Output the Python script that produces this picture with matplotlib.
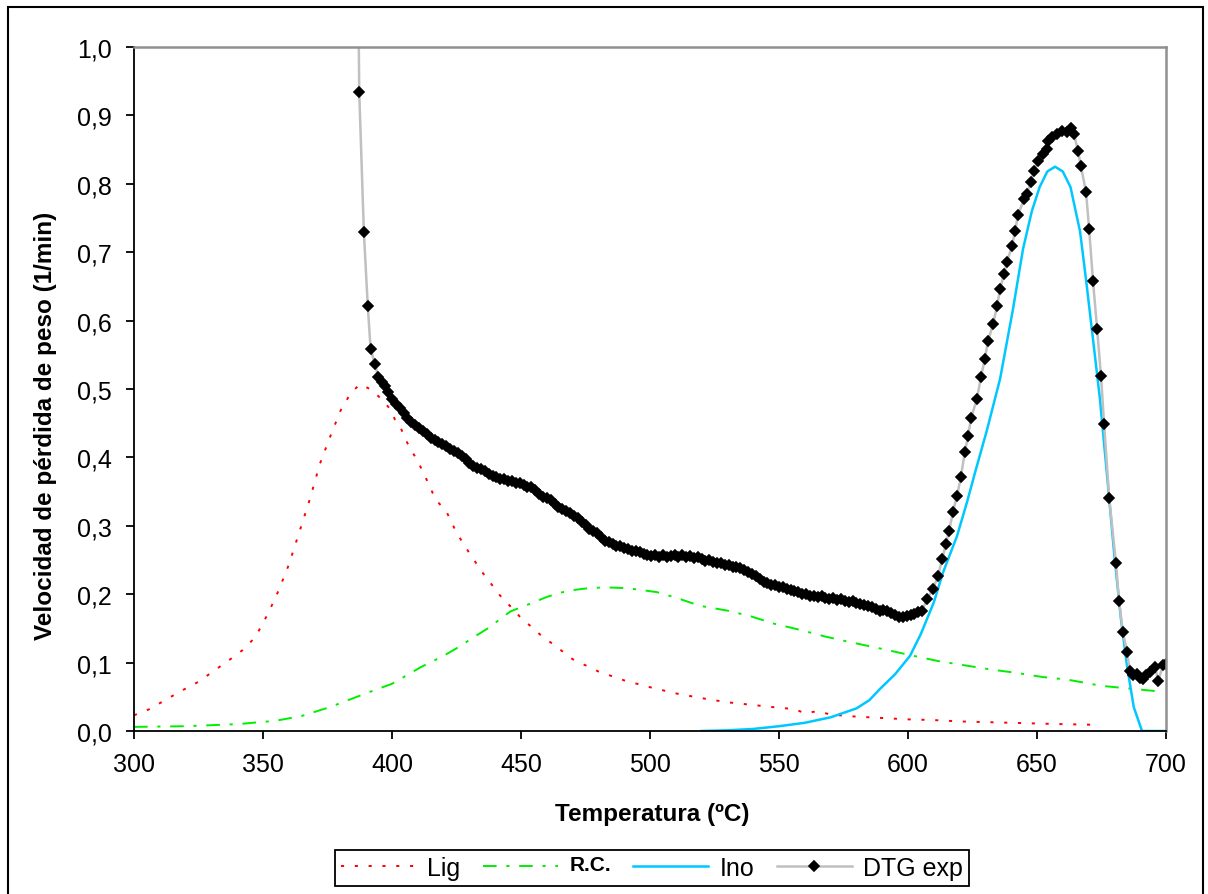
import matplotlib
matplotlib.use('Agg')
import matplotlib.pyplot as plt
from matplotlib.patches import Rectangle
from matplotlib.ticker import FuncFormatter, MultipleLocator

plt.rcParams['font.family'] = ['Liberation Sans', 'DejaVu Sans']

# Lig (red, dotted)
lig_t = [300, 306, 312, 318, 325, 331, 337, 342, 347, 352, 356, 360, 364, 368, 372, 376,
         380, 384, 387.6, 392, 396, 399, 401.2, 403.4, 405.4, 408, 409.8, 412.1, 414.1, 416,
         418.2, 421.2, 425, 430, 435, 441.9, 445.7, 449.6, 453.5, 458, 462.4, 470, 480, 490,
         500, 510, 520, 530, 540, 550, 556, 560, 565, 570, 580, 590, 600, 610, 620, 630,
         640, 650, 660, 673.6]
lig_y = [0.023, 0.032, 0.045, 0.058, 0.072, 0.088, 0.104, 0.118, 0.137, 0.172, 0.205, 0.243,
         0.290, 0.337, 0.390, 0.430, 0.468, 0.494, 0.507, 0.499, 0.485, 0.472, 0.455, 0.443,
         0.425, 0.407, 0.396, 0.378, 0.362, 0.346, 0.333, 0.320, 0.290, 0.260, 0.232, 0.198,
         0.183, 0.167, 0.154, 0.139, 0.127, 0.105, 0.087, 0.074, 0.064, 0.055, 0.048, 0.042,
         0.038, 0.034, 0.032, 0.026, 0.029, 0.024, 0.021, 0.019, 0.017, 0.016, 0.014, 0.013,
         0.012, 0.011, 0.010, 0.009]

# R.C. (green, dash-dot)
rc_t = [300, 320, 340, 355, 365, 376, 385, 392, 400, 411, 420, 426, 432, 438, 442, 446,
        453.5, 460, 465, 470, 476.7, 483, 489.5, 495, 502.7, 510, 519.4, 530, 538.8, 548,
        558, 568, 577.5, 590, 602, 612, 622, 632, 642, 652, 662, 675, 686, 697]
rc_y = [0.006, 0.007, 0.010, 0.015, 0.022, 0.035, 0.048, 0.058, 0.069, 0.093, 0.110, 0.123,
        0.138, 0.152, 0.164, 0.175, 0.186, 0.196, 0.202, 0.206, 0.209, 0.210, 0.209, 0.207,
        0.203, 0.195, 0.183, 0.176, 0.168, 0.157, 0.148, 0.138, 0.130, 0.120, 0.110, 0.102,
        0.096, 0.090, 0.085, 0.079, 0.075, 0.066, 0.062, 0.058]

# Ino (blue, solid)
ino_t = [520, 530, 540, 550, 560, 570, 580, 585, 589, 595, 600.8, 605, 610, 613.6, 619,
         622.9, 626, 630.6, 635.7, 640.7, 644.6, 648, 651, 654, 657, 660, 663, 666.7, 669,
         671.7, 674.4, 677, 680, 682.5, 684.9, 687.5, 690.7, 700]
ino_y = [0.0, 0.001, 0.003, 0.007, 0.012, 0.020, 0.033, 0.045, 0.061, 0.083, 0.110, 0.142,
         0.188, 0.232, 0.285, 0.335, 0.378, 0.440, 0.515, 0.617, 0.705, 0.760, 0.795, 0.818,
         0.825, 0.818, 0.795, 0.730, 0.660, 0.573, 0.485, 0.380, 0.256, 0.165, 0.095, 0.035,
         0.0, 0.0]

# DTG exp (grey line, black diamonds)
dtg_t = [386.9, 387.3, 389.1, 390.6, 391.7, 393.4, 394.7, 396.0, 397.3, 398.5, 400.0, 401.5,
         403.0, 404.5, 406.0, 407.5, 409.0, 410.5, 412.0, 413.5, 415.0, 416.5, 418.0, 419.5,
         421.0, 422.5, 424.0, 425.5, 427.0, 428.5, 430.0, 431.5, 433.0, 434.5, 436.0, 437.5,
         439.0, 440.5, 442.0, 443.5, 445.0, 446.5, 448.0, 449.5, 451.0, 452.5, 454.0, 455.5,
         457.0, 458.5, 460.0, 461.5, 463.0, 464.5, 466.0, 467.5, 469.0, 470.5, 472.0, 473.5,
         475.0, 476.5, 478.0, 479.5, 481.0, 482.5, 484.0, 485.5, 487.0, 488.5, 490.0, 491.5,
         493.0, 494.5, 496.0, 497.5, 499.0, 500.5, 502.0, 503.5, 505.0, 506.5, 508.0, 509.5,
         511.0, 512.5, 514.0, 515.5, 517.0, 518.5, 520.0, 521.5, 523.0, 524.5, 526.0, 527.5,
         529.0, 530.5, 532.0, 533.5, 535.0, 536.5, 538.0, 539.5, 541.0, 542.5, 544.0, 545.5,
         547.0, 548.5, 550.0, 551.5, 553.0, 554.5, 556.0, 557.5, 559.0, 560.5, 562.0, 563.5,
         565.0, 566.5, 568.0, 569.5, 571.0, 572.5, 574.0, 575.5, 577.0, 578.5, 580.0, 581.5,
         583.0, 584.5, 586.0, 587.5, 589.0, 590.5, 592.0, 593.5, 595.0, 596.5, 598.0, 599.5,
         601.0, 602.5, 604.0, 605.5, 607.4, 609.7, 611.7, 613.2, 614.7, 615.9, 617.4, 619.0,
         620.5, 622.0, 623.3, 624.4, 626.7, 628.3, 629.8, 631.0, 633.0, 634.5, 635.7, 637.2,
         638.4, 640.3, 641.5, 642.6, 645.0, 646.0, 647.7, 648.8, 650.4, 652.3, 653.9, 654.3,
         655.8, 657.8, 659.7, 661.6, 663.2, 664.3, 665.9, 667.0, 669.0, 670.2, 671.7, 673.3,
         674.8, 676.0, 678.0, 680.6, 681.8, 683.3, 684.9, 686.0, 687.4, 688.8, 690.0, 691.0,
         692.4, 693.8, 695.7, 697.0, 698.8, 700.0]
dtg_y = [1.100, 0.934, 0.729, 0.622, 0.559, 0.536, 0.518, 0.510, 0.504, 0.495, 0.486, 0.478,
         0.472, 0.465, 0.458, 0.452, 0.447, 0.443, 0.438, 0.434, 0.428, 0.425, 0.422, 0.420,
         0.416, 0.412, 0.409, 0.406, 0.402, 0.397, 0.392, 0.388, 0.385, 0.383, 0.380, 0.376,
         0.373, 0.372, 0.369, 0.368, 0.366, 0.366, 0.363, 0.362, 0.360, 0.357, 0.356, 0.352,
         0.346, 0.342, 0.340, 0.337, 0.332, 0.328, 0.324, 0.322, 0.318, 0.314, 0.311, 0.306,
         0.301, 0.296, 0.292, 0.289, 0.284, 0.278, 0.276, 0.274, 0.271, 0.270, 0.268, 0.266,
         0.263, 0.263, 0.261, 0.259, 0.258, 0.256, 0.257, 0.255, 0.257, 0.254, 0.256, 0.258,
         0.255, 0.257, 0.255, 0.256, 0.253, 0.254, 0.252, 0.249, 0.250, 0.247, 0.246, 0.245,
         0.243, 0.242, 0.240, 0.240, 0.238, 0.235, 0.233, 0.230, 0.226, 0.222, 0.218, 0.217,
         0.214, 0.213, 0.211, 0.210, 0.208, 0.206, 0.205, 0.203, 0.201, 0.200, 0.198, 0.197,
         0.196, 0.198, 0.194, 0.193, 0.194, 0.191, 0.193, 0.190, 0.189, 0.190, 0.187, 0.186,
         0.184, 0.183, 0.181, 0.178, 0.176, 0.177, 0.175, 0.172, 0.170, 0.167, 0.166, 0.168,
         0.170, 0.171, 0.174, 0.176, 0.193, 0.208, 0.227, 0.251, 0.273, 0.292, 0.320, 0.344,
         0.371, 0.408, 0.431, 0.457, 0.485, 0.518, 0.544, 0.570, 0.595, 0.621, 0.646, 0.668,
         0.686, 0.709, 0.731, 0.754, 0.778, 0.785, 0.803, 0.819, 0.833, 0.844, 0.851, 0.863,
         0.868, 0.873, 0.877, 0.876, 0.882, 0.873, 0.848, 0.826, 0.788, 0.734, 0.658, 0.588,
         0.519, 0.449, 0.340, 0.246, 0.190, 0.145, 0.115, 0.088, 0.082, 0.083, 0.078, 0.076,
         0.082, 0.086, 0.094, 0.073, 0.096, 0.098]

fig = plt.figure(figsize=(12.08, 8.95), dpi=100)
ax = fig.add_axes([134 / 1208, 1 - 732 / 895, 1032 / 1208, 684 / 895])

ax.plot(lig_t, lig_y, color='#ff0000', lw=1.4, dashes=(1.6, 5.5), label='Lig')
ax.plot(rc_t, rc_y, color='#00ee00', lw=1.4, dashes=(7, 5, 1.6, 5), label='R.C.')
ax.plot(ino_t, ino_y, color='#00c8ff', lw=1.8, label='Ino')
ax.plot(dtg_t, dtg_y, color='#c0c0c0', lw=1.8, marker='D', ms=5, mew=1.2,
        mfc='black', mec='black', label='DTG exp')

ax.set_xlim(300, 700)
ax.set_ylim(0, 1.0)
ax.xaxis.set_major_locator(MultipleLocator(50))
ax.yaxis.set_major_locator(MultipleLocator(0.1))
ax.yaxis.set_major_formatter(FuncFormatter(lambda v, p: f'{v:.1f}'.replace('.', ',')))

for side in ['left', 'bottom']:
    ax.spines[side].set_color('black')
    ax.spines[side].set_linewidth(1.3)
for side in ['top', 'right']:
    ax.spines[side].set_color('#909090')
    ax.spines[side].set_linewidth(1.8)

ax.tick_params(axis='y', direction='out', length=6, width=1.3, labelsize=18, pad=10)
ax.tick_params(axis='x', direction='out', length=6, width=1.3, labelsize=18, pad=9)

fig.text(652 / 1208, 1 - 815 / 895, 'Temperatura (ºC)', ha='center', va='center',
         fontsize=17.5, fontweight='bold')
fig.text(46 / 1208, 1 - 426 / 895, 'Velocidad de pérdida de peso (1/min)', ha='center',
         va='center', rotation=90, fontsize=17.5, fontweight='bold')

leg = fig.legend(loc='center', bbox_to_anchor=(652 / 1208, 1 - 869 / 895), ncol=4,
                 fontsize=18, frameon=True, fancybox=False, edgecolor='black',
                 framealpha=1, numpoints=1, handlelength=3.0, handletextpad=0.45,
                 columnspacing=0.9, borderpad=0.25)
leg.get_frame().set_linewidth(1.3)
rc_text = leg.get_texts()[1]
rc_text.set_fontweight('bold')
rc_text.set_fontsize(15)
rc_text.set_y(5)

fig.patches.append(Rectangle((8 / 1208, -0.05), 1195 / 1208, 1.05 - 8 / 895,
                             transform=fig.transFigure, fill=False,
                             edgecolor='black', linewidth=1.5))

fig.savefig('out.png', dpi=100)
